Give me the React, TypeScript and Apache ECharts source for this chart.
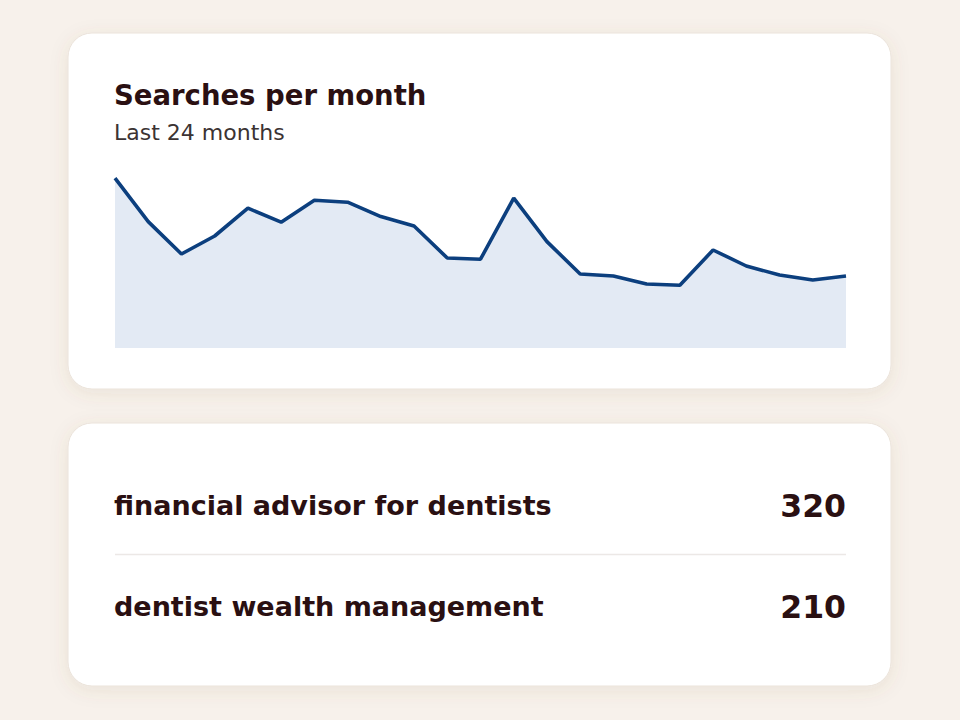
import React, { useEffect, useRef } from "react";
import * as echarts from "echarts";

const months = [
  "M1", "M2", "M3", "M4", "M5", "M6", "M7", "M8", "M9", "M10", "M11", "M12",
  "M13", "M14", "M15", "M16", "M17", "M18", "M19", "M20", "M21", "M22", "M23",
];
const searches = [
  849, 632, 470, 560, 699, 629, 739, 729, 657, 610, 450, 444,
  749, 532, 370, 360, 320, 314, 490, 410, 365, 340, 360,
];
const title = "Searches per month";
const subtitle = "Last 24 months";
const keywords = ["financial advisor for dentists", "dentist wealth management"];
const volumes = ["320", "210"];

const BG = "#f7f1eb";
const INK = "#2a1012";
const FONT = "'DejaVu Sans', sans-serif";

export default function App() {
  const ref = useRef<HTMLDivElement>(null);
  useEffect(() => {
    if (!ref.current) return;
    const chart = echarts.init(ref.current, undefined, { renderer: "svg" });
    const cardStyle = {
      fill: "#ffffff",
      stroke: "#ebe3da",
      lineWidth: 1,
      shadowBlur: 18,
      shadowOffsetY: 4,
      shadowColor: "rgba(120,90,60,0.10)",
    };
    const rowY = [505, 606];
    const graphics: any[] = [
      { type: "rect", z: 0, shape: { x: 68, y: 33, width: 823, height: 356, r: 24 }, style: cardStyle },
      { type: "rect", z: 0, shape: { x: 68, y: 423, width: 823, height: 263, r: 24 }, style: cardStyle },
      {
        type: "text", z: 10, x: 114, y: 95,
        style: { text: title, font: `bold 27.5px ${FONT}`, fill: INK, verticalAlign: "middle" },
      },
      {
        type: "text", z: 10, x: 114, y: 132,
        style: { text: subtitle, font: `22px ${FONT}`, fill: "#3b3333", verticalAlign: "middle" },
      },
      {
        type: "line", z: 10,
        shape: { x1: 115, y1: 554.5, x2: 846, y2: 554.5 },
        style: { stroke: "#ece8e6", lineWidth: 1.5 },
      },
    ];
    keywords.forEach((k, i) => {
      graphics.push({
        type: "text", z: 10, x: 114, y: rowY[i],
        style: { text: k, font: `bold 27px ${FONT}`, fill: INK, verticalAlign: "middle" },
      });
      graphics.push({
        type: "text", z: 10, x: 846, y: rowY[i] + 1,
        style: { text: volumes[i], font: `bold 31.5px ${FONT}`, fill: INK, verticalAlign: "middle", align: "right" },
      });
    });
    chart.setOption({
      animation: false,
      backgroundColor: BG,
      grid: { left: 115, right: 114, top: 148, bottom: 372, containLabel: false },
      xAxis: {
        type: "category", data: months, boundaryGap: false, show: false,
      },
      yAxis: { type: "value", min: 0, max: 1000, show: false, splitLine: { show: false } },
      series: [
        {
          type: "line", data: searches, symbol: "none", z: 20,
          lineStyle: { color: "#0c3f7e", width: 3.6 },
          areaStyle: { color: "#e3eaf4", opacity: 1 },
        },
      ],
      graphic: { elements: graphics },
    });
    return () => chart.dispose();
  }, []);
  return <div ref={ref} style={{ position: "fixed", left: 0, top: 0, width: 960, height: 720 }} />;
}
